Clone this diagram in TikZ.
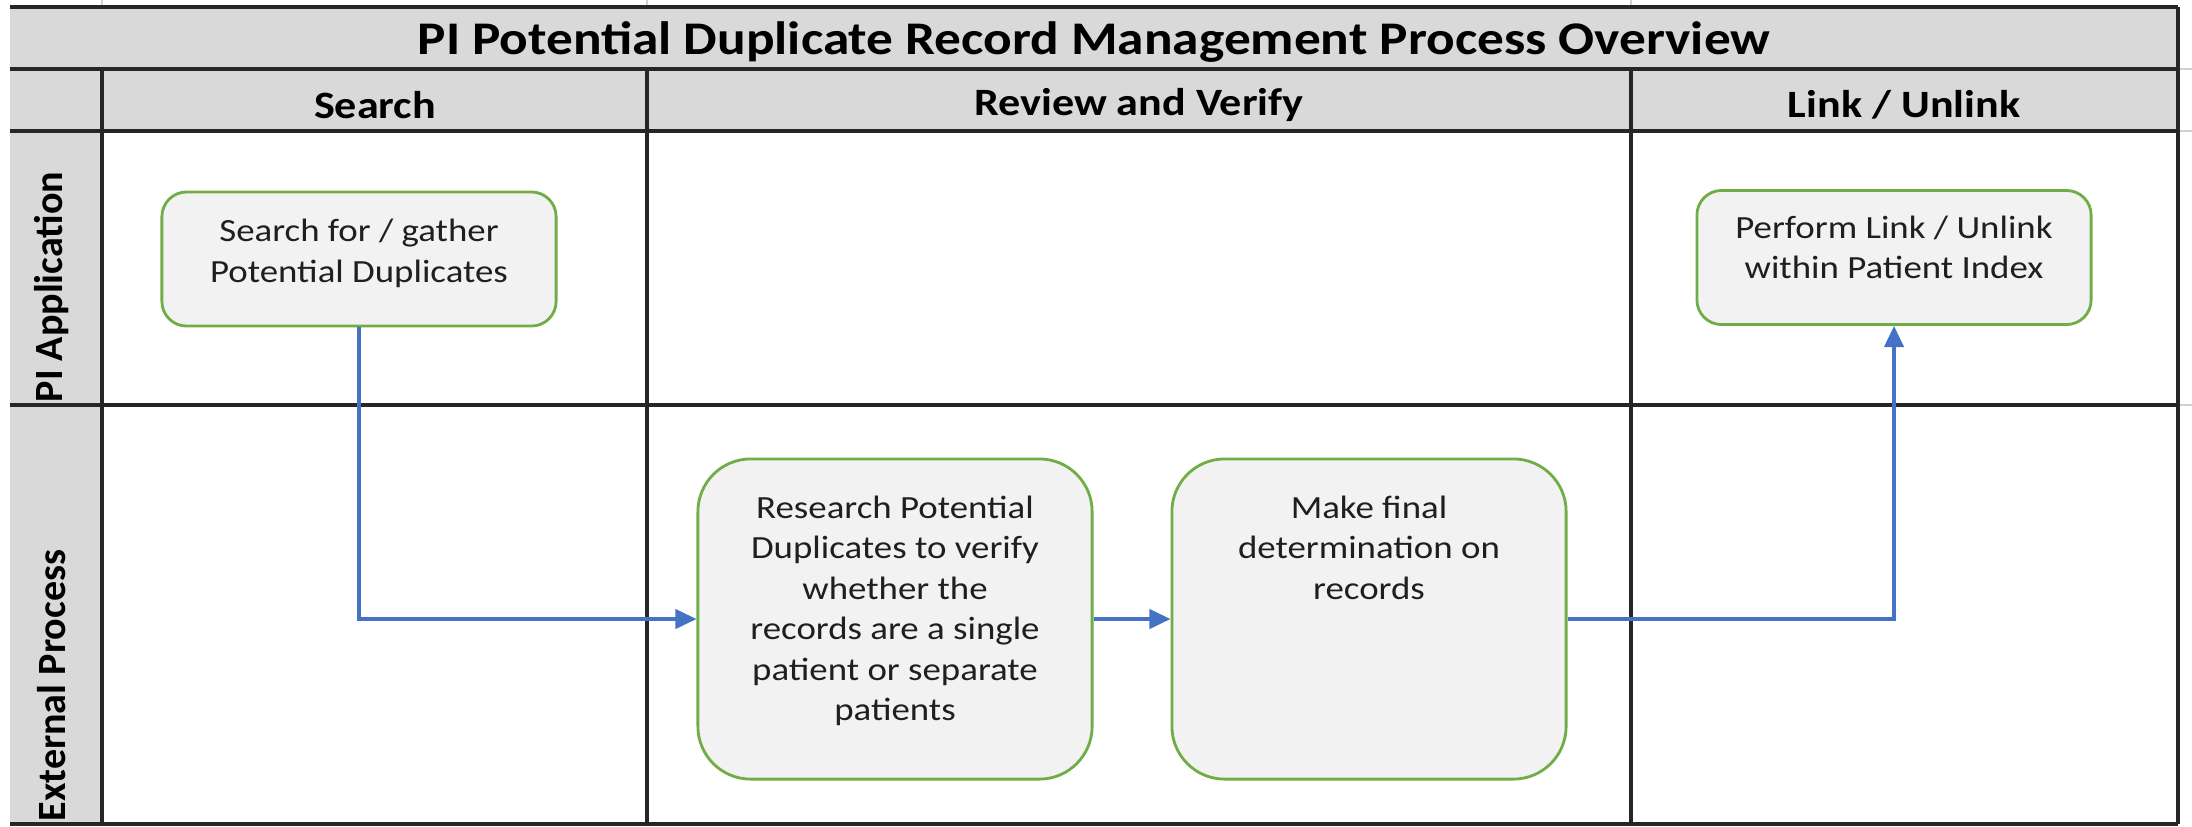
\documentclass[tikz,border=0pt]{standalone}
\usepackage{fontspec}
\setmainfont{Carlito}[FakeStretch=1.14]
\newfontfamily\lanefont{Carlito}
\usetikzlibrary{arrows.meta,calc}
\definecolor{hdr}{HTML}{D9D9D9}
\definecolor{boxfill}{HTML}{F2F2F2}
\definecolor{boxline}{HTML}{70AD47}
\definecolor{flow}{HTML}{4472C4}
\definecolor{rule}{HTML}{262626}
\begin{document}
\begin{tikzpicture}[x=0.01cm,y=-0.01cm,
  gridline/.style={draw=rule,line width=1pt},
  faint/.style={draw=black!18,line width=0.6pt},
  proc/.style={draw=boxline,fill=boxfill,line width=0.8pt,rounded corners=7pt,minimum width=3.94cm,inner sep=0pt},
  smallproc/.style={proc,minimum height=1.34cm},
  bigproc/.style={proc,rounded corners=15pt,minimum height=3.2cm},
  ptext/.style={anchor=base,inner sep=0pt,text=black!88,font=\fontsize{9.2}{11.5}\selectfont},
  hdrtext/.style={inner sep=0pt,font=\fontsize{11}{13}\selectfont\bfseries},
  titletext/.style={inner sep=0pt,font=\fontsize{13.3}{15}\selectfont\bfseries},
  lanetext/.style={rotate=90,anchor=west,inner sep=0pt,font=\lanefont\fontsize{11.4}{13}\selectfont\bfseries},
  flowarrow/.style={draw=flow,line width=0.9pt,-{Triangle[length=6pt,width=5.5pt]}}
]
\useasboundingbox (0,0) rectangle (2192,826);
% background fills
\fill[hdr] (10,7) rectangle (2178,131);
\fill[hdr] (10,131) rectangle (102,824);
% faint spreadsheet gridlines outside the table
\draw[faint] (102,0) -- (102,7);
\draw[faint] (647,0) -- (647,7);
\draw[faint] (1631,0) -- (1631,7);
\draw[faint] (2178,69) -- (2192,69);
\draw[faint] (2178,131) -- (2192,131);
\draw[faint] (2178,405) -- (2192,405);
% table rules
\draw[gridline] (10,7) -- (2178,7);
\draw[gridline] (10,69) -- (2178,69);
\draw[gridline] (10,131) -- (2178,131);
\draw[gridline] (10,405) -- (2178,405);
\draw[gridline] (10,824) -- (2178,824);
\draw[gridline] (102,69) -- (102,824);
\draw[gridline] (647,69) -- (647,824);
\draw[gridline] (1631,69) -- (1631,824);
\draw[gridline] (2178,7) -- (2178,824);
% texts of the table
\node[titletext] (title) at (1094,42) {PI Potential Duplicate Record Management Process Overview};
\node[hdrtext] (hsearch) at (375,105) {Search};
\node[hdrtext] (hreview) at (1139,105) {Review and Verify};
\node[hdrtext] (hlink) at (1904,105) {Link / Unlink};
\node[lanetext] (lane1) at (52,403) {PI Application};
\node[lanetext] (lane2) at (52,822) {External Process};
% process boxes
\node[smallproc] (s1) at (359,259) {};
\node[smallproc] (p1) at (1894,257.5) {};
\node[bigproc] (r1) at (895,619) {};
\node[bigproc] (m1) at (1369,619) {};
\node[ptext] (s1t) at ($(s1.north)+(0,51)$) {\parbox[t]{3.9cm}{\centering Search for / gather\\Potential Duplicates}};
\node[ptext] (p1t) at ($(p1.north)+(0,49)$) {\parbox[t]{3.9cm}{\centering Perform Link / Unlink\\within Patient Index}};
\node[ptext] (r1t) at ($(r1.north)+(0,61)$) {\parbox[t]{3.9cm}{\centering Research Potential\\Duplicates to verify\\whether the\\records are a single\\patient or separate\\patients}};
\node[ptext] (m1t) at ($(m1.north)+(0,61)$) {\parbox[t]{3.9cm}{\centering Make final\\determination on\\records}};
% connectors
\draw[flowarrow] (s1.south) |- (r1.west);
\draw[flowarrow] (r1.east) -- (m1.west);
\draw[flowarrow] (m1.east) -| (p1.south);
\end{tikzpicture}
\end{document}
